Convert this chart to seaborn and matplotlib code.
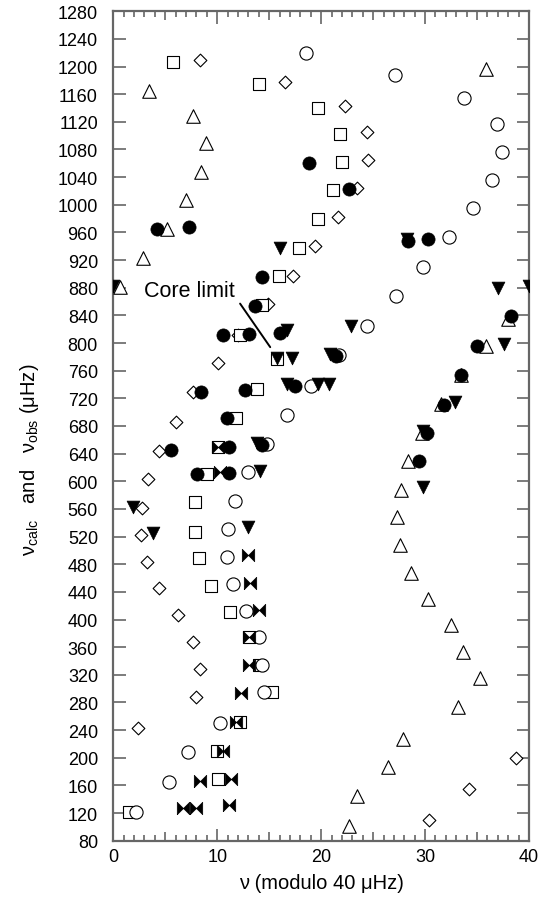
import matplotlib
matplotlib.use("Agg")
import matplotlib.pyplot as plt
import seaborn as sns

# open symbols
circle_x = [2.15, 5.39, 7.16, 10.27, 14.5, 14.28, 14.05, 12.74, 11.55, 10.91, 11.07, 11.71, 12.99, 14.82,
            16.75, 19.0, 21.72, 24.45, 27.18, 29.84, 32.31, 34.59, 36.42, 37.38, 36.9, 33.78, 27.08, 18.5]
circle_y = [122, 165, 208, 250, 295, 334, 374, 412, 451, 491, 531, 572, 613, 654,
            696, 738, 782, 824, 868, 910, 953, 995, 1036, 1077, 1117, 1154, 1187, 1219]

square_x = [1.51, 10.05, 10.01, 12.19, 15.25, 14.05, 13.09, 11.23, 9.4, 8.25, 7.86, 7.86, 8.99, 10.1,
            11.85, 13.8, 15.72, 12.19, 14.28, 15.95, 17.9, 19.67, 21.17, 22.04, 21.82, 19.67, 14.0, 5.78]
square_y = [122, 170, 210, 252, 295, 334, 374, 411, 449, 489, 527, 570, 610, 650,
            691, 733, 777, 811, 855, 897, 938, 980, 1022, 1062, 1102, 1140, 1174, 1206]

diamond_x = [30.41, 34.26, 38.73, 2.41, 7.93, 8.34, 7.64, 6.26, 4.43, 3.21, 2.67, 2.79, 3.37, 4.43,
             6.03, 7.7, 10.1, 12.03, 14.86, 17.27, 19.4, 21.66, 23.48, 24.54, 24.45, 22.3, 16.5, 8.34]
diamond_y = [110, 155, 199, 243, 288, 328, 368, 406, 445, 483, 522, 562, 603, 644,
             686, 729, 771, 811, 856, 897, 941, 982, 1024, 1065, 1105, 1143, 1177, 1210]

triangle_x = [22.66, 23.43, 26.44, 27.85, 33.2, 35.29, 33.63, 32.47, 30.26, 28.62, 27.6, 27.3, 27.66, 28.4,
              29.68, 31.5, 33.43, 35.87, 38.0, 0.64, 2.89, 5.14, 7.0, 8.41, 8.92, 7.7, 3.46, 35.87]
triangle_y = [102, 144, 186, 227, 273, 315, 353, 392, 430, 468, 508, 548, 587, 630,
              670, 712, 754, 796, 835, 881, 923, 965, 1007, 1048, 1089, 1129, 1164, 1197]

# filled symbols
dot_x = [8.03, 11.17, 5.55, 11.17, 14.28, 10.91, 8.41, 12.68, 17.49, 21.4, 10.58, 13.09, 16.04, 13.64,
         14.28, 4.18, 7.29, 22.71, 18.84, 28.4, 30.32, 29.45, 30.16, 31.83, 33.43, 35.03, 38.25]
dot_y = [610, 612, 645, 650, 652, 691, 729, 732, 738, 781, 811, 813, 815, 854,
         895, 965, 968, 1023, 1060, 948, 950, 630, 670, 711, 754, 795, 839]

down_x = [3.85, 1.92, 12.99, 14.12, 13.8, 16.75, 19.73, 20.76, 15.72, 17.17, 20.86, 16.69, 22.88,
          0.0, 40.0, 37.06, 16.04, 28.24, 29.84, 29.78, 32.89, 37.6]
down_y = [525, 563, 534, 615, 656, 741, 741, 741, 778, 778, 784, 819, 824,
          883, 883, 880, 938, 951, 592, 673, 715, 799]

bowtie_x = [6.68, 7.96, 11.17, 8.34, 11.3, 10.53, 11.81, 12.26, 13.09, 13.09, 14.02, 13.16, 12.93,
            10.27, 10.1]
bowtie_y = [127, 127, 131, 167, 170, 210, 252, 293, 334, 374, 414, 453, 493, 613, 650]

y_ticks = list(range(80, 1281, 40))
x_ticks = list(range(0, 41, 5))

sns.set_style("ticks")
plt.rcParams["font.family"] = ["Liberation Sans", "DejaVu Sans"]
plt.rcParams["mathtext.fontset"] = "custom"
plt.rcParams["mathtext.rm"] = "Liberation Sans"
plt.rcParams["mathtext.it"] = "Liberation Sans:italic"
plt.rcParams["text.color"] = "black"
plt.rcParams["axes.labelcolor"] = "black"

fig = plt.figure(figsize=(5.55, 9.04), dpi=100)
ax = fig.add_axes([0.2041, 0.0689, 0.9532 - 0.2041, 0.9865 - 0.0689])

bowtie = [(-1, -1), (-1, 1), (0, 0), (1, 1), (1, -1), (0, 0), (-1, -1)]
open_kw = dict(facecolor="white", edgecolor="black", linewidth=0.8, ax=ax, zorder=3, legend=False)
fill_kw = dict(color="black", edgecolor="black", linewidth=0.5, ax=ax, zorder=4, legend=False)

sns.scatterplot(x=triangle_x, y=triangle_y, marker="^", s=95, **open_kw)
sns.scatterplot(x=diamond_x, y=diamond_y, marker="D", s=42, **open_kw)
sns.scatterplot(x=square_x, y=square_y, marker="s", s=78, **open_kw)
sns.scatterplot(x=circle_x, y=circle_y, marker="o", s=90, **open_kw)
sns.scatterplot(x=dot_x, y=dot_y, marker="o", s=90, **fill_kw)
sns.scatterplot(x=down_x, y=down_y, marker="v", s=85, **fill_kw)
sns.scatterplot(x=bowtie_x, y=bowtie_y, marker=bowtie, s=80, **fill_kw)

# core limit annotation
ax.plot([12.2, 15.1], [857, 794], color="black", linewidth=1.4, zorder=5)
ax.text(3.0, 876, "Core limit", fontsize=15.5, ha="left", va="center")

ax.set_xlim(0, 40)
ax.set_ylim(80, 1280)
ax.set_yticks(y_ticks)
ax.set_xticks(x_ticks)
ax.set_xticklabels([str(t) if t % 10 == 0 else "" for t in x_ticks])
ax.set_xticks(range(0, 41), minor=True)

spine_col = "#666666"
for sp in ax.spines.values():
    sp.set_visible(True)
    sp.set_color(spine_col)
    sp.set_linewidth(1.6)

ax.tick_params(axis="both", which="both", direction="in", color=spine_col, width=1.2,
               top=True, right=True, labelsize=13, labelcolor="black")
ax.tick_params(axis="y", which="major", length=9, pad=11)
ax.tick_params(axis="x", which="major", length=9, pad=5)
ax.tick_params(axis="x", which="minor", length=4.5)
for t in ax.xaxis.get_major_ticks():
    if abs(t.get_loc() % 10) > 0.1:
        t.tick1line.set_markersize(6.5)
        t.tick2line.set_markersize(6.5)

ax.set_xlabel("ν (modulo 40 μHz)", fontsize=14.5, labelpad=6)
ax.set_ylabel("ν$_{\\mathrm{calc}}$   and   ν$_{\\mathrm{obs}}$ (μHz)", fontsize=14.5)
ax.yaxis.set_label_coords(-0.175, 0.46)

fig.savefig("out.png", dpi=100)
